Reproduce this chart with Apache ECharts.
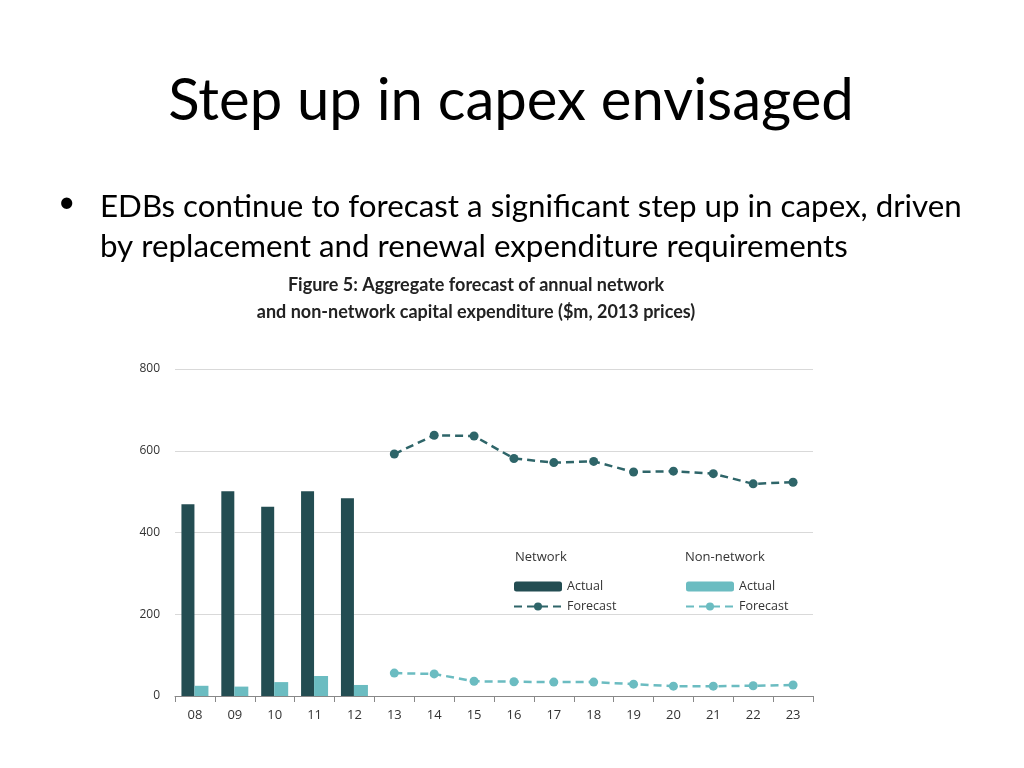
<!DOCTYPE html>
<html>
<head>
<meta charset="utf-8">
<script src="https://cdn.jsdelivr.net/npm/echarts@6/dist/echarts.min.js"></script>
<style>
html,body{margin:0;padding:0;background:#fff;}
#main{width:1024px;height:768px;}
</style>
</head>
<body>
<div id="main"></div>
<script>
const categories = ['08','09','10','11','12','13','14','15','16','17','18','19','20','21','22','23'];
const networkActual = [469, 501, 463, 501, 484, null, null, null, null, null, null, null, null, null, null, null];
const nonNetworkActual = [25, 23, 34, 49, 27, null, null, null, null, null, null, null, null, null, null, null];
const networkForecast = [null, null, null, null, null, 592, 638, 636, 581, 571, 574, 548, 550, 544, 519, 523];
const nonNetworkForecast = [null, null, null, null, null, 56, 54, 36, 35, 34, 34, 29, 24, 24, 25, 27];
const yTicks = [0, 200, 400, 600, 800];

const DARK = '#234D52';
const DARK_LINE = '#2E6569';
const LIGHT = '#6BBCC1';

const chart = echarts.init(document.getElementById('main'));
chart.setOption({
  backgroundColor: '#fff',
  animation: false,
  graphic: [
    {type:'text', x:511, y:72, style:{text:'Step up in capex envisaged', font:'58px Lato', fill:'#000', align:'center'}},
    {type:'text', left:58, top:187, style:{text:'•', font:'30px Lato', fill:'#000'}},
    {type:'text', left:100, top:187, style:{text:'EDBs continue to forecast a significant step up in capex, driven\nby replacement and renewal expenditure requirements', font:'31.3px Lato', lineHeight:40, fill:'#000'}},
    {type:'text', x:476, y:272, style:{text:'Figure 5: Aggregate forecast of annual network\nand non-network capital expenditure ($m, 2013 prices)', font:'bold 18px Lato', lineHeight:27, align:'center', fill:'#222'}},
    {type:'text', left:515, top:551, style:{text:'Network', font:'13px "Open Sans"', fill:'#333'}},
    {type:'text', left:685, top:551, style:{text:'Non-network', font:'13px "Open Sans"', fill:'#333'}}
  ],
  legend: [
    {
      left: 508, top: 575, orient: 'vertical', itemGap: 7, itemWidth: 48, itemHeight: 10,
      data: ['Network Actual', 'Network Forecast'],
      formatter: n => n.split(' ')[1],
      textStyle: {fontFamily: '"Open Sans"', fontSize: 12.5, color: '#333', padding:[0,0,0,0]}
    },
    {
      left: 680, top: 575, orient: 'vertical', itemGap: 7, itemWidth: 48, itemHeight: 10,
      data: ['Non-network Actual', 'Non-network Forecast'],
      formatter: n => n.split(' ')[1],
      textStyle: {fontFamily: '"Open Sans"', fontSize: 12.5, color: '#333', padding:[0,0,0,0]}
    }
  ],
  grid: {left: 175, right: 211, top: 369, bottom: 72, containLabel: false},
  xAxis: {
    type: 'category',
    data: categories,
    boundaryGap: true,
    axisLine: {lineStyle: {color: '#888', width: 1}},
    axisTick: {show: true, alignWithLabel: false, length: 6, lineStyle: {color: '#888'}},
    axisLabel: {color: '#333', fontFamily: '"Open Sans"', fontSize: 13, margin: 13}
  },
  yAxis: {
    type: 'value',
    min: 0, max: 800, interval: 200,
    axisLine: {show: false},
    axisTick: {show: false},
    splitLine: {lineStyle: {color: '#d9d9d9', width: 1}},
    axisLabel: {color: '#333', fontFamily: '"Open Sans"', fontSize: 12, margin: 15,
      formatter: v => yTicks.includes(v) ? String(v) : ''}
  },
  series: [
    {name: 'Network Actual', type: 'bar', data: networkActual, barWidth: 13, barGap: '0%',
      itemStyle: {color: DARK}},
    {name: 'Non-network Actual', type: 'bar', data: nonNetworkActual, barWidth: 14, barGap: '0%',
      itemStyle: {color: LIGHT}},
    {name: 'Network Forecast', type: 'line', data: networkForecast, symbol: 'circle', symbolSize: 9,
      lineStyle: {color: DARK_LINE, width: 2.5, type: [8, 5]}, itemStyle: {color: DARK_LINE}},
    {name: 'Non-network Forecast', type: 'line', data: nonNetworkForecast, symbol: 'circle', symbolSize: 9,
      lineStyle: {color: LIGHT, width: 2.5, type: [8, 5]}, itemStyle: {color: LIGHT}}
  ]
});
</script>
</body>
</html>
